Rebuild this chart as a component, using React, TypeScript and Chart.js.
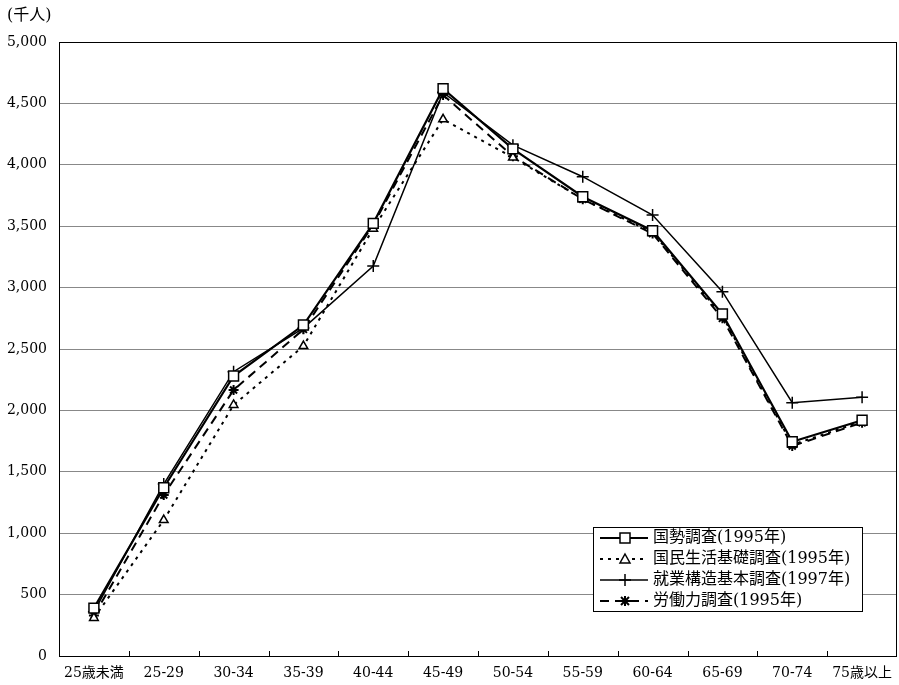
import React, { useEffect, useRef } from 'react';
import { Chart, registerables } from 'chart.js';

Chart.register(...registerables);

const categories = ['25歳未満', '25-29', '30-34', '35-39', '40-44', '45-49', '50-54', '55-59', '60-64', '65-69', '70-74', '75歳以上'];
const kokusei = [390, 1370, 2280, 2695, 3523, 4620, 4130, 3740, 3463, 2785, 1745, 1920];
const kokumin = [310, 1107, 2044, 2524, 3480, 4370, 4060, 3720, 3450, 2770, 1720, 1910];
const shugyo = [360, 1400, 2315, 2670, 3176, 4590, 4160, 3903, 3591, 2967, 2063, 2107];
const rodo = [330, 1311, 2166, 2660, 3510, 4568, 4070, 3720, 3440, 2750, 1710, 1900];
const seriesNames = ['国勢調査(1995年)', '国民生活基礎調査(1995年)', '就業構造基本調査(1997年)', '労働力調査(1995年)'];
const yUnit = '(千人)';

const FONT = '"DejaVu Serif", "Noto Sans CJK JP", serif';

function drawMarker(ctx: CanvasRenderingContext2D, kind: number, x: number, y: number) {
  ctx.save();
  ctx.setLineDash([]);
  ctx.strokeStyle = '#000';
  ctx.fillStyle = '#fff';
  ctx.lineWidth = 1.5;
  ctx.beginPath();
  if (kind === 0) {
    ctx.rect(x - 5, y - 5, 10, 10);
    ctx.fill();
    ctx.stroke();
  } else if (kind === 1) {
    ctx.moveTo(x, y - 5);
    ctx.lineTo(x + 5, y + 4);
    ctx.lineTo(x - 5, y + 4);
    ctx.closePath();
    ctx.fill();
    ctx.stroke();
  } else if (kind === 2) {
    ctx.moveTo(x - 6, y);
    ctx.lineTo(x + 6, y);
    ctx.moveTo(x, y - 6);
    ctx.lineTo(x, y + 6);
    ctx.stroke();
  } else {
    ctx.lineWidth = 2;
    ctx.moveTo(x - 5, y);
    ctx.lineTo(x + 5, y);
    ctx.moveTo(x, y - 5);
    ctx.lineTo(x, y + 5);
    ctx.moveTo(x - 4, y - 4);
    ctx.lineTo(x + 4, y + 4);
    ctx.moveTo(x + 4, y - 4);
    ctx.lineTo(x - 4, y + 4);
    ctx.stroke();
  }
  ctx.restore();
}

const framePlugin = {
  id: 'framePlugin',
  afterDraw(chart: any) {
    const { ctx, chartArea } = chart;
    const { left, right, top, bottom } = chartArea;
    ctx.save();
    // frame
    ctx.strokeStyle = '#000';
    ctx.lineWidth = 1;
    ctx.setLineDash([]);
    ctx.strokeRect(left + 0.5, top + 0.5, right - left - 1, bottom - top);
    // category tick marks
    const n = categories.length;
    ctx.beginPath();
    for (let i = 1; i < n; i++) {
      const x = Math.round(left + (i * (right - left)) / n) + 0.5;
      ctx.moveTo(x, bottom);
      ctx.lineTo(x, bottom - 5);
    }
    ctx.stroke();
    // unit label
    ctx.fillStyle = '#000';
    ctx.font = `16px ${FONT}`;
    ctx.textBaseline = 'middle';
    ctx.textAlign = 'left';
    ctx.fillText(yUnit, 7, 16);

    // legend
    const bx = 593, by = 527, bw = 269, bh = 84;
    ctx.fillStyle = '#fff';
    ctx.fillRect(bx, by, bw, bh);
    ctx.strokeStyle = '#000';
    ctx.lineWidth = 1;
    ctx.strokeRect(bx + 0.5, by + 0.5, bw, bh);
    const dashes = [[], [3, 5], [], [9, 6]];
    const widths = [2.2, 2, 1.5, 2];
    for (let i = 0; i < 4; i++) {
      const y = by + 11 + i * 21;
      ctx.save();
      ctx.strokeStyle = '#000';
      ctx.lineWidth = widths[i];
      ctx.setLineDash(dashes[i]);
      ctx.beginPath();
      ctx.moveTo(600, y);
      ctx.lineTo(648, y);
      ctx.stroke();
      ctx.restore();
      drawMarker(ctx, i, 625, y);
      ctx.fillStyle = '#000';
      ctx.font = `16px ${FONT}`;
      ctx.textAlign = 'left';
      ctx.textBaseline = 'middle';
      ctx.fillText(seriesNames[i], 653, y);
    }
    ctx.restore();
  },
};

export default function App() {
  const ref = useRef<HTMLCanvasElement>(null);
  useEffect(() => {
    if (!ref.current) return;
    const chart = new Chart(ref.current, {
      type: 'line',
      data: {
        labels: categories,
        datasets: [
          {
            label: seriesNames[0],
            data: kokusei,
            borderColor: '#000',
            borderWidth: 2.2,
            pointStyle: 'rect',
            pointRadius: 7,
            pointBackgroundColor: '#fff',
            pointBorderColor: '#000',
            pointBorderWidth: 1.5,
            tension: 0,
          },
          {
            label: seriesNames[1],
            data: kokumin,
            borderColor: '#000',
            borderWidth: 2,
            borderDash: [3, 5],
            pointStyle: 'triangle',
            pointRadius: 5,
            pointBackgroundColor: '#fff',
            pointBorderColor: '#000',
            pointBorderWidth: 1.5,
            tension: 0,
          },
          {
            label: seriesNames[2],
            data: shugyo,
            borderColor: '#000',
            borderWidth: 1.5,
            pointStyle: 'cross',
            pointRadius: 6,
            pointBorderColor: '#000',
            pointBorderWidth: 1.5,
            tension: 0,
          },
          {
            label: seriesNames[3],
            data: rodo,
            borderColor: '#000',
            borderWidth: 2,
            borderDash: [9, 6],
            pointStyle: 'star',
            pointRadius: 5,
            pointBorderColor: '#000',
            pointBorderWidth: 2,
            tension: 0,
          },
        ],
      },
      options: {
        animation: false,
        responsive: false,
        devicePixelRatio: 1,
        layout: { autoPadding: false, padding: { top: 42, right: 2, left: 0, bottom: 0 } },
        plugins: {
          legend: { display: false },
          tooltip: { enabled: false },
        },
        scales: {
          x: {
            offset: true,
            grid: { display: false, drawTicks: false },
            border: { display: false },
            ticks: { color: '#000', font: { family: FONT, size: 14 }, padding: 9, maxRotation: 0, autoSkip: false },
            afterFit: (s: any) => { s.height = 29; s.paddingLeft = 0; s.paddingRight = 0; },
          },
          y: {
            min: 0,
            max: 5000,
            grid: { color: '#888', lineWidth: 1, drawTicks: false },
            border: { display: false },
            ticks: {
              stepSize: 500,
              color: '#000',
              font: { family: FONT, size: 14 },
              padding: 12,
              callback: (v: any) => Number(v).toLocaleString('en-US'),
            },
            afterFit: (s: any) => { s.width = 59; s.paddingTop = 0; s.paddingBottom = 0; },
          },
        },
      },
      plugins: [framePlugin],
    });
    return () => chart.destroy();
  }, []);
  return (
    <div style={{ position: 'fixed', left: 0, top: 0, width: 899, height: 685, background: '#fff' }}>
      <canvas ref={ref} width={899} height={685} style={{ width: 899, height: 685 }} />
    </div>
  );
}
